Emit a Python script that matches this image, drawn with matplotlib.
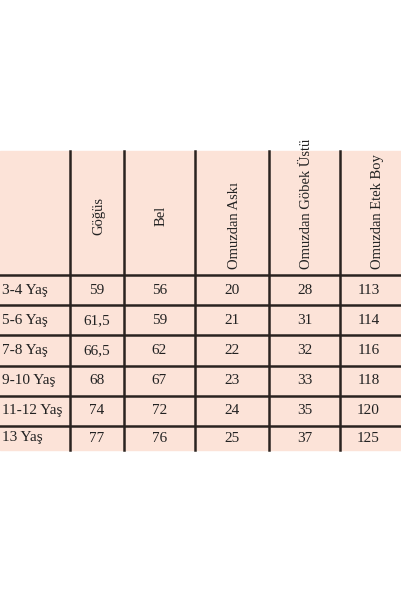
import matplotlib.pyplot as plt

headers = ["Göğüs", "Bel", "Omuzdan Askı", "Omuzdan Göbek Üstü", "Omuzdan Etek Boy"]
rows = ["3-4 Yaş", "5-6 Yaş", "7-8 Yaş", "9-10 Yaş", "11-12 Yaş", "13 Yaş"]
values = [
    ["59", "56", "20", "28", "113"],
    ["61,5", "59", "21", "31", "114"],
    ["66,5", "62", "22", "32", "116"],
    ["68", "67", "23", "33", "118"],
    ["74", "72", "24", "35", "120"],
    ["77", "76", "25", "37", "125"],
]

W, H = 401, 601
fig = plt.figure(figsize=(W / 100, H / 100), dpi=100)
ax = fig.add_axes([0, 0, 1, 1])
ax.set_xlim(0, W)
ax.set_ylim(H, 0)
ax.axis("off")

top, bottom = 151, 450
head_bot = 275
row_h = (426 - 275) / 5
xs = [0, 70, 124, 195, 269, 340, 410]
ys = [head_bot + i * row_h for i in range(6)] + [bottom]

ax.add_patch(plt.Rectangle((0, top), W, bottom - top, color="#fce3d8", zorder=0))
for x in xs[1:-1]:
    ax.plot([x, x], [top, bottom], color="#2a2320", lw=1.8)
for y in ys[:-1]:
    ax.plot([0, W], [y, y], color="#2a2320", lw=1.8)

font = dict(family="Liberation Serif", color="#222222")
for j, h in enumerate(headers):
    cx = (xs[j + 1] + xs[j + 2]) / 2 + 2
    if j < 2:
        ax.text(cx, 216, h, rotation=90, ha="center", va="center", fontsize=10.5, **font)
    else:
        ax.text(cx, head_bot - 6, h, rotation=90, ha="center", va="bottom", fontsize=10.5, **font)
for i, r in enumerate(rows):
    cy = (ys[i] + ys[i + 1]) / 2
    ax.text(2, cy, r, ha="left", va="center", fontsize=11, **font)
    for j, v in enumerate(values[i]):
        cx = (xs[j + 1] + xs[j + 2]) / 2 if j < 4 else (340 + 401) / 2 - 2
        ax.text(cx, cy, v, ha="center", va="center", fontsize=11, **font)

fig.savefig("out.png", dpi=100, facecolor="white")
